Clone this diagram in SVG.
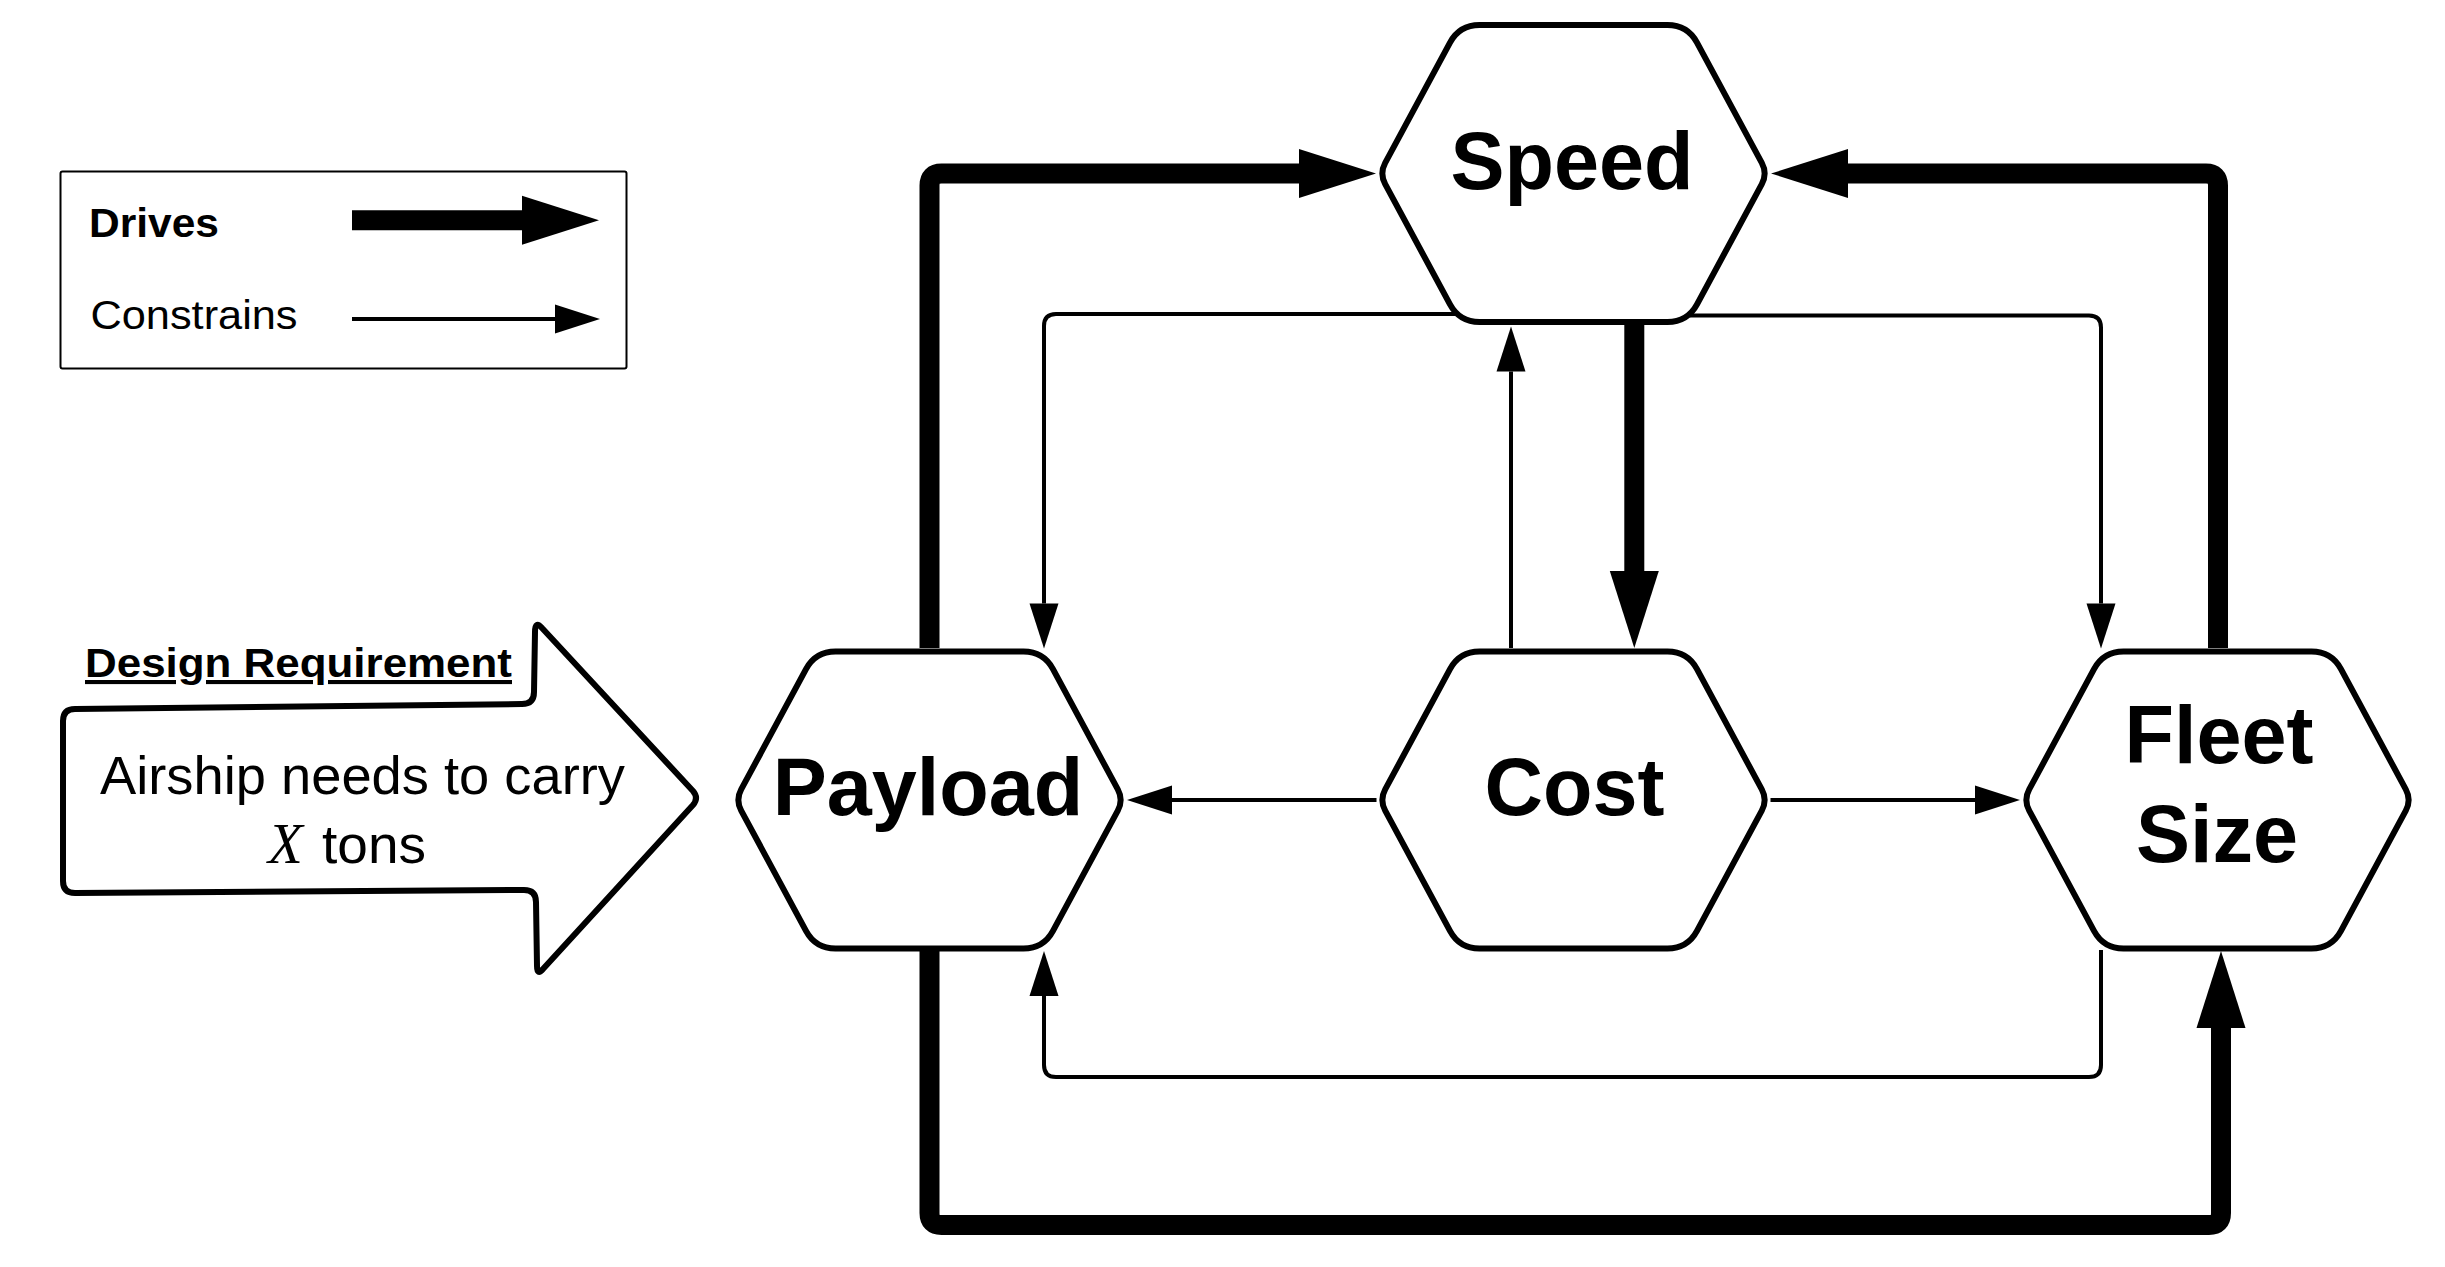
<svg xmlns="http://www.w3.org/2000/svg" xmlns:xlink="http://www.w3.org/1999/xlink" width="2445" height="1267" viewBox="0 0 2445 1267">
<style>
.hex{fill:#fff;stroke:#000;stroke-width:6;stroke-linejoin:round}
.lbl{font-family:"Liberation Sans",Arial,sans-serif;font-weight:bold;font-size:81px;fill:#000;text-anchor:middle}
.drive{fill:none;stroke:#000;stroke-width:20;stroke-linejoin:round}
.cons{fill:none;stroke:#000;stroke-width:4;stroke-linejoin:round}
.sans{font-family:"Liberation Sans",Arial,sans-serif;fill:#000}
</style>
<defs>
<path id="hex" d="M -188.3,-10.6 L -123.5,-130.9 Q -114,-148.5 -94,-148.5 L 94,-148.5 Q 114,-148.5 123.5,-130.9 L 188.3,-10.6 Q 194,0 188.3,10.6 L 123.5,130.9 Q 114,148.5 94,148.5 L -94,148.5 Q -114,148.5 -123.5,130.9 L -188.3,10.6 Q -194,0 -188.3,-10.6 Z"/>
<marker id="mDrive" markerUnits="userSpaceOnUse" markerWidth="80" markerHeight="50" refX="0" refY="24.5" orient="auto" overflow="visible">
<path d="M0,0 L77,24.5 L0,49 Z" fill="#000"/>
</marker>
<marker id="mCons" markerUnits="userSpaceOnUse" markerWidth="46" markerHeight="30" refX="0" refY="14.5" orient="auto" overflow="visible">
<path d="M0,0 L45,14.5 L0,29 Z" fill="#000"/>
</marker>
</defs>
<rect width="2445" height="1267" fill="#fff"/>

<g id="legend">
<rect x="60.5" y="171.5" width="566" height="197" rx="2" fill="#fff" stroke="#000" stroke-width="2"/>
<text class="sans" x="89" y="236.5" font-size="40" font-weight="bold" textLength="130" lengthAdjust="spacingAndGlyphs">Drives</text>
<text class="sans" x="90.5" y="329" font-size="40" textLength="207" lengthAdjust="spacingAndGlyphs">Constrains</text>
<path d="M352,220.3 H522" class="drive" marker-end="url(#mDrive)"/>
<path d="M352,319 H555" class="cons" marker-end="url(#mCons)"/>
</g>

<g id="connectors">
<path d="M929.5,648 V185.5 Q929.5,173.5 941.5,173.5 H1299" class="drive" marker-end="url(#mDrive)"/>
<path d="M2218,648 V185.5 Q2218,173.5 2206,173.5 H1848" class="drive" marker-end="url(#mDrive)"/>
<path d="M1634.3,325 V571" class="drive" marker-end="url(#mDrive)"/>
<path d="M929.5,951 V1213 Q929.5,1225 941.5,1225 H2209 Q2221,1225 2221,1213 V1028" class="drive" marker-end="url(#mDrive)"/>
<path d="M1456,314 H1056 Q1044,314 1044,326 V603.5" class="cons" marker-end="url(#mCons)"/>
<path d="M1690,315.5 H2089 Q2101,315.5 2101,327.5 V603.5" class="cons" marker-end="url(#mCons)"/>
<path d="M1511,648 V371.5" class="cons" marker-end="url(#mCons)"/>
<path d="M1376.5,800 H1172" class="cons" marker-end="url(#mCons)"/>
<path d="M1770.5,800 H1975" class="cons" marker-end="url(#mCons)"/>
<path d="M2101,950 V1065 Q2101,1077 2089,1077 H1056 Q1044,1077 1044,1065 V996" class="cons" marker-end="url(#mCons)"/>
</g>

<g id="design-requirement">
<path d="M63,721 Q63,709 75,709 L522,704 Q534,704 534,692 L535,632 Q535,620 542,628 L693,791 Q699,798 693,805 L543,969 Q537,976 537,966 L536,902 Q536,890 524,890 L75,893 Q63,893 63,881 Z" fill="#fff" stroke="#000" stroke-width="6" stroke-linejoin="round"/>
<text class="sans" x="85" y="677" font-size="41" font-weight="bold" text-decoration="underline" textLength="427" lengthAdjust="spacingAndGlyphs">Design Requirement</text>
<text class="sans" x="100" y="794" font-size="53" textLength="525" lengthAdjust="spacingAndGlyphs">Airship needs to carry</text>
<text x="268" y="863" font-family="'Liberation Serif','Times New Roman',serif" font-style="italic" font-size="57" fill="#000">X</text>
<text class="sans" x="322" y="863" font-size="53" textLength="104" lengthAdjust="spacingAndGlyphs">tons</text>
</g>

<g id="speed">
<use xlink:href="#hex" href="#hex" class="hex" transform="translate(1573.5,173.5)"/>
<text class="lbl" x="1572" y="188.5">Speed</text>
</g>
<g id="payload">
<use xlink:href="#hex" href="#hex" class="hex" transform="translate(929.5,800)"/>
<text class="lbl" x="928" y="815">Payload</text>
</g>
<g id="cost">
<use xlink:href="#hex" href="#hex" class="hex" transform="translate(1573.5,800)"/>
<text class="lbl" x="1574.5" y="815">Cost</text>
</g>
<g id="fleet-size">
<use xlink:href="#hex" href="#hex" class="hex" transform="translate(2217.5,800)"/>
<text class="lbl" x="2219" y="763.3">Fleet</text>
<text class="lbl" x="2217" y="861.7">Size</text>
</g>
</svg>
